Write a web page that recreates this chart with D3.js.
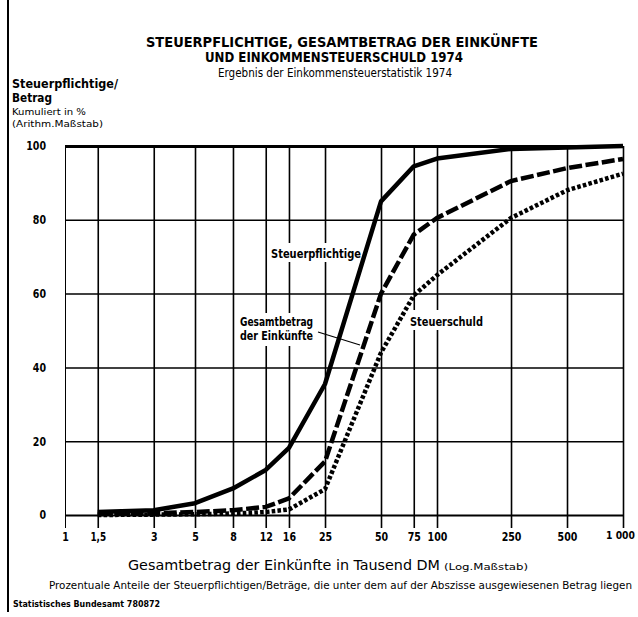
<!DOCTYPE html>
<html><head><meta charset="utf-8">
<script src="https://cdn.jsdelivr.net/npm/d3@7"></script>
<style>
body{margin:0;background:#fff}
svg{display:block}
text{font-family:"Liberation Sans Narrow","DejaVu Sans Condensed",sans-serif;fill:#000}
</style></head><body>
<svg id="c" width="638" height="617"></svg>
<script>
const xTicks = [1, 1.5, 3, 5, 8, 12, 16, 25, 50, 75, 100, 250, 500, 1000];
const xTickLabels = ["1", "1,5", "3", "5", "8", "12", "16", "25", "50", "75", "100", "250", "500", "1 000"];
const yTicks = [0, 20, 40, 60, 80, 100];
const amounts = [1.5, 3, 5, 8, 12, 16, 25, 50, 75, 100, 250, 500, 1000];
const steuerpflichtige = [0.8, 1.3, 3.2, 7.2, 12.2, 18.2, 35.5, 85, 94.5, 96.6, 99.2, 99.6, 100];
const gesamtbetrag = [0.3, 0.5, 0.8, 1.3, 2.2, 4.5, 14.5, 60, 76, 80.5, 90.5, 94, 96.5];
const steuerschuld = [0, 0.1, 0.2, 0.4, 0.8, 1.5, 7, 44, 59.5, 65, 80.5, 88, 92.5];

const svg = d3.select("#c");
const x = d3.scaleLog().domain([1, 1000]).range([65, 623]);
const y = d3.scaleLinear().domain([0, 100]).range([515, 146]);

// page border
svg.append("line").attr("x1", 8).attr("x2", 8).attr("y1", 0).attr("y2", 612)
  .attr("stroke", "#000").attr("stroke-width", 2);

// vertical grid + x tick labels
const gx = svg.append("g").attr("transform", `translate(0,${y(100)})`)
  .call(d3.axisBottom(x).tickValues(xTicks).tickSize(y(0) - y(100) + 13).tickPadding(4)
    .tickFormat((d, i) => xTickLabels[i]));
gx.select(".domain").remove();
gx.selectAll(".tick line").attr("stroke", "#000").attr("stroke-width", d => d === 1 ? 1 : 1.6);
gx.selectAll(".tick text").attr("font-size", d => d === 1000 ? 10 : 12).attr("font-weight", "bold")
  .attr("dx", d => d === 1000 ? -3 : 0)
  .attr("textLength", (d, i) => {
    const s = xTickLabels[i];
    return s.replace(/[, ]/g, "").length * 6.6 + (s.match(/[, ]/g) || []).length * 2.5;
  })
  .attr("lengthAdjust", "spacingAndGlyphs");

// horizontal grid + y tick labels
const gy = svg.append("g").attr("transform", `translate(${x(1)},0)`)
  .call(d3.axisLeft(y).tickValues(yTicks).tickSize(-(x(1000) - x(1))).tickPadding(19));
gy.select(".domain").remove();
gy.selectAll(".tick line").attr("stroke", "#000")
  .attr("stroke-width", d => d === 100 ? 3.2 : (d === 0 ? 2 : 1.5));
gy.selectAll(".tick text").attr("font-size", 12).attr("font-weight", "bold")
  .attr("textLength", d => String(d).length * 6.6).attr("lengthAdjust", "spacingAndGlyphs");

// label backgrounds (break grid lines)
function bg(x0, y0, w, h) {
  svg.append("rect").attr("x", x0).attr("y", y0).attr("width", w).attr("height", h).attr("fill", "#fff");
}
bg(268, 243, 95, 19);
bg(237, 313, 80, 33);
bg(407, 310, 79, 20);

// curves
const line = d3.line().x(d => x(d[0])).y(d => y(d[1]));
const mk = arr => amounts.map((a, i) => [a, arr[i]]);
svg.append("path").datum(mk(steuerschuld)).attr("d", line).attr("fill", "none")
  .attr("stroke", "#000").attr("stroke-width", 4.5).attr("stroke-dasharray", "3.6,2.2");
svg.append("path").datum(mk(gesamtbetrag)).attr("d", line).attr("fill", "none")
  .attr("stroke", "#000").attr("stroke-width", 4.5).attr("stroke-dasharray", "13,3.5");
svg.append("path").datum(mk(steuerpflichtige)).attr("d", line).attr("fill", "none")
  .attr("stroke", "#000").attr("stroke-width", 4.5).attr("stroke-linejoin", "round");

// leader line
svg.append("line").attr("x1", 318).attr("y1", 332).attr("x2", 360).attr("y2", 345)
  .attr("stroke", "#000").attr("stroke-width", 1.3);

function txt(s, xx, yy, size, w, opts = {}) {
  const t = svg.append("text").attr("x", xx).attr("y", yy).attr("font-size", size)
    .attr("font-weight", opts.bold ? "bold" : "normal")
    .attr("text-anchor", opts.anchor || "start").text(s);
  if (w) t.attr("textLength", w).attr("lengthAdjust", "spacingAndGlyphs");
  return t;
}

// curve labels
txt("Steuerpflichtige", 271, 258, 12.5, 90, {bold: true});
txt("Gesamtbetrag", 240, 326, 12, 73, {bold: true});
txt("der Einkünfte", 240, 340, 12, 73, {bold: true});
txt("Steuerschuld", 410, 326, 12.5, 73, {bold: true});

// titles
txt("STEUERPFLICHTIGE, GESAMTBETRAG DER EINKÜNFTE", 146, 47, 13.5, 392, {bold: true});
txt("UND EINKOMMENSTEUERSCHULD 1974", 205, 62, 13.5, 258, {bold: true});
txt("Ergebnis der Einkommensteuerstatistik 1974", 218, 77, 11.5, 234);

// y axis title
txt("Steuerpflichtige/", 12, 88, 12, 106, {bold: true});
txt("Betrag", 12, 102, 12, 40, {bold: true});
txt("Kumuliert in %", 12, 115, 9.5, 74);
txt("(Arithm.Maßstab)", 12, 127, 9.5, 91);

// x axis title
txt("Gesamtbetrag der Einkünfte in Tausend DM", 128, 570, 13.5, 312);
txt("(Log.Maßstab)", 444, 570, 9.5, 84);
txt("Prozentuale Anteile  der Steuerpflichtigen/Beträge, die unter dem auf der Abszisse ausgewiesenen Betrag liegen", 49, 589, 10.5, 583);
txt("Statistisches Bundesamt 780872", 13, 607, 8.5, 147, {bold: true});
</script>
</body></html>
